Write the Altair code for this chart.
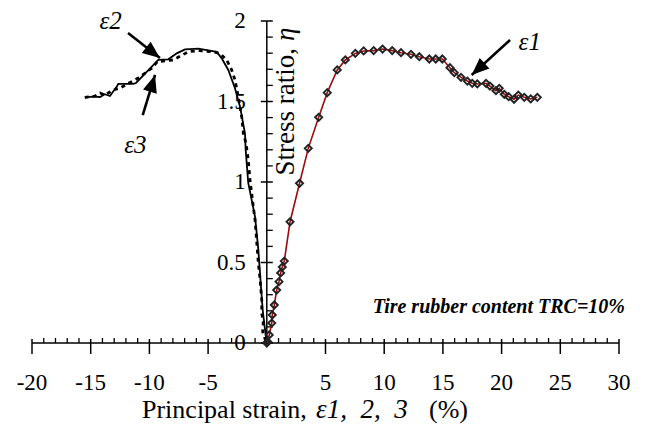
import math
import altair as alt
import pandas as pd

# ---- data ----
e1_x = [0.0, 0.08, 0.21, 0.42, 0.47, 0.64, 0.84, 1.04, 1.18, 1.32, 1.49, 1.98, 2.79, 3.53, 4.42,
        5.15, 6.0, 6.69, 7.54, 8.25, 9.1, 9.86, 10.68, 11.43, 12.28, 12.99, 13.84, 14.39, 14.95,
        15.6, 15.97, 16.54, 17.08, 17.5, 17.93, 18.67, 19.01, 19.52, 19.8, 20.23, 20.6, 21.06,
        21.42, 21.93, 22.48, 23.04]
e1_y = [0.0, 0.008, 0.05, 0.124, 0.174, 0.236, 0.329, 0.381, 0.435, 0.472, 0.509, 0.753, 0.992,
        1.209, 1.402, 1.555, 1.696, 1.758, 1.799, 1.814, 1.816, 1.826, 1.816, 1.803, 1.793, 1.778,
        1.764, 1.764, 1.764, 1.71, 1.679, 1.65, 1.627, 1.613, 1.609, 1.613, 1.596, 1.567, 1.582,
        1.545, 1.53, 1.514, 1.54, 1.526, 1.516, 1.526]

e2_x = [-15.5, -14.9, -14.2, -13.8, -13.36, -12.79, -12.65, -11.37, -11.14, -9.24, -8.39, -7.67,
        -6.97, -5.83, -4.27, -3.84, -3.28, -2.71, -2.28, -1.86, -1.8, -1.58, -1.0, -0.72, -0.52,
        -0.35, -0.15, 0.0]
e2_y = [1.524, 1.53, 1.528, 1.545, 1.534, 1.592, 1.609, 1.609, 1.615, 1.758, 1.762, 1.799, 1.824,
        1.828, 1.809, 1.768, 1.696, 1.582, 1.468, 1.302, 1.2, 0.994, 0.784, 0.578, 0.373, 0.205,
        0.081, 0.0]

e3_x = [-15.5, -14.64, -14.2, -13.78, -13.36, -13.1, -12.5, -10.95, -9.8, -9.33, -7.96, -6.69,
        -5.83, -4.56, -3.99, -3.42, -2.99, -2.71, -2.43, -2.14, -2.0, -1.77, -1.58, -1.43, -1.15,
        -1.0, -0.72, -0.58, -0.43, -0.43, -0.3, -0.35, -0.07, 0.0]
e3_y = [1.525, 1.534, 1.553, 1.54, 1.559, 1.571, 1.584, 1.646, 1.706, 1.747, 1.758, 1.809, 1.816,
        1.809, 1.799, 1.758, 1.696, 1.634, 1.53, 1.406, 1.302, 1.24, 1.137, 1.012, 0.847, 0.764,
        0.495, 0.402, 0.267, 0.184, 0.132, 0.07, 0.008, 0.0]

x_tick_labels = [-20, -15, -10, -5, 5, 10, 15, 20, 25, 30]
y_tick_labels = [0, 0.5, 1, 1.5, 2]

# arrows: label, tail (x, y), tip (x, y) in data units
arrow_label = ["ε2", "ε3", "ε1"]
arrow_tail_x = [-11.82, -10.57, 20.72]
arrow_tail_y = [1.925, 1.416, 1.882]
arrow_tip_x = [-9.10, -9.52, 17.45]
arrow_tip_y = [1.770, 1.665, 1.665]
label_x = [-13.3, -11.2, 22.4]
label_y = [2.0, 1.23, 1.87]

# ---- layout ----
W, H = 587, 322
XMIN, XMAX, YMIN, YMAX = -20, 30, 0, 2
xs = alt.Scale(domain=[XMIN, XMAX], nice=False, zero=False)
ys = alt.Scale(domain=[YMIN, YMAX], nice=False, zero=False)
FONT = "Liberation Serif"
NB = "\u00a0"


def X(f):
    return alt.X(f, type="quantitative", scale=xs, axis=None)


def Y(f):
    return alt.Y(f, type="quantitative", scale=ys, axis=None)


# axis lines
axes_df = pd.DataFrame({"x": [XMIN, 0], "x2": [XMAX, 0], "y": [0, 0], "y2": [0, YMAX]})
axis_lines = alt.Chart(axes_df).mark_rule(color="black", strokeWidth=1.5).encode(
    x=X("x"), x2="x2", y=Y("y"), y2="y2")

xt = list(range(XMIN, XMAX + 1))
xminor = pd.DataFrame({"x": [v for v in xt if v % 5 != 0], "y": 0})
xmajor = pd.DataFrame({"x": [v for v in xt if v % 5 == 0 and v != 0], "y": 0})
yminor = pd.DataFrame({"y": [round(i * 0.1, 1) for i in range(21) if i % 5 != 0], "x": 0})
ymajor = pd.DataFrame({"y": [round(i * 0.1, 1) for i in range(21) if i % 5 == 0], "x": 0})

x_minor_ticks = alt.Chart(xminor).mark_tick(orient="vertical", size=5, thickness=1.3,
                                             yOffset=-2.5, opacity=1, color="black").encode(
    x=X("x"), y=Y("y"))
x_major_ticks = alt.Chart(xmajor).mark_tick(orient="vertical", size=15, thickness=1.5,
                                             yOffset=3.5, opacity=1, color="black").encode(
    x=X("x"), y=Y("y"))
y_minor_ticks = alt.Chart(yminor).mark_tick(orient="horizontal", size=6, thickness=1.3,
                                             xOffset=3, opacity=1, color="black").encode(
    x=X("x"), y=Y("y"))
y_major_ticks = alt.Chart(ymajor).mark_tick(orient="horizontal", size=12, thickness=1.5,
                                             xOffset=0, opacity=1, color="black").encode(
    x=X("x"), y=Y("y"))

xlab_df = pd.DataFrame({"x": x_tick_labels, "y": 0, "t": [str(v) for v in x_tick_labels]})
x_labels = alt.Chart(xlab_df).mark_text(font=FONT, fontSize=23, dy=40, baseline="middle",
                                        color="black").encode(x=X("x"), y=Y("y"), text="t:N")
ylab_df = pd.DataFrame({"y": y_tick_labels, "x": 0, "t": [f"{v:g}" for v in y_tick_labels]})
y_labels = alt.Chart(ylab_df).mark_text(font=FONT, fontSize=23, dx=-21, align="right",
                                        baseline="middle", color="black").encode(
    x=X("x"), y=Y("y"), text="t:N")

# curves
e1 = pd.DataFrame({"x": e1_x, "y": e1_y, "i": range(len(e1_x))})
e2 = pd.DataFrame({"x": e2_x, "y": e2_y, "i": range(len(e2_x))})
e3 = pd.DataFrame({"x": e3_x, "y": e3_y, "i": range(len(e3_x))})

e1_line = alt.Chart(e1).mark_line(color="#9b0d0d", strokeWidth=1.6).encode(
    x=X("x"), y=Y("y"), order="i:Q")
e1_pts = alt.Chart(e1).mark_point(shape="diamond", size=50, filled=False, color="#222222",
                                  strokeWidth=1.9, opacity=1).encode(x=X("x"), y=Y("y"))
e2_line = alt.Chart(e2).mark_line(color="black", strokeWidth=1.8).encode(
    x=X("x"), y=Y("y"), order="i:Q")
e3_line = alt.Chart(e3).mark_line(color="black", strokeWidth=2.8, strokeDash=[4, 4]).encode(
    x=X("x"), y=Y("y"), order="i:Q")

# arrows
px_per_x = W / (XMAX - XMIN)
px_per_y = H / (YMAX - YMIN)
angles = []
for tx, ty, hx, hy in zip(arrow_tail_x, arrow_tail_y, arrow_tip_x, arrow_tip_y):
    dx = (hx - tx) * px_per_x
    dy = -(hy - ty) * px_per_y
    angles.append(math.degrees(math.atan2(dx, -dy)) % 360)
arr = pd.DataFrame({"tx": arrow_tail_x, "ty": arrow_tail_y, "hx": arrow_tip_x,
                    "hy": arrow_tip_y, "a": angles, "lab": arrow_label,
                    "lx": label_x, "ly": label_y})
arrow_shaft = alt.Chart(arr).mark_rule(color="black", strokeWidth=2.6).encode(
    x=X("tx"), y=Y("ty"), x2="hx", y2="hy")
arrow_head = alt.Chart(arr).mark_point(shape="M0,0L-0.7,1.7L0.7,1.7Z", size=420, filled=True,
                                       color="black", opacity=1).encode(
    x=X("hx"), y=Y("hy"), angle=alt.Angle("a:Q", scale=None))
arrow_text = alt.Chart(arr).mark_text(font=FONT, fontSize=25, fontStyle="italic",
                                      color="black", baseline="middle").encode(
    x=X("lx"), y=Y("ly"), text="lab:N")


# titles / annotation
def txt(s, x, y, **kw):
    return alt.Chart(pd.DataFrame({"t": [s]})).mark_text(font=FONT, color="black", **kw).encode(
        text="t:N", x=alt.value(x), y=alt.value(y))


title_a = txt("Principal strain,", 110, 389, fontSize=26, align="left", baseline="middle")
title_b = txt(f"ε1,{NB}{NB}2,{NB}{NB}3", 284, 389, fontSize=27, align="left",
              baseline="middle", fontStyle="italic")
title_c = txt("(%)", 397, 389, fontSize=26, align="left", baseline="middle")
ytitle_a = txt("Stress ratio,", 254, 27, fontSize=27, align="right", baseline="middle",
               angle=270)
ytitle_b = txt("η", 254, 20, fontSize=27, align="left", baseline="middle",
               angle=270, fontStyle="italic")
note = txt("Tire rubber content TRC=10%", 593, 286, fontSize=20, align="right",
           baseline="middle", fontStyle="italic", fontWeight="bold")

chart = alt.layer(
    axis_lines, x_minor_ticks, x_major_ticks, y_minor_ticks, y_major_ticks,
    x_labels, y_labels,
    e3_line, e2_line, e1_line, e1_pts,
    arrow_shaft, arrow_head, arrow_text,
    title_a, title_b, title_c, ytitle_a, ytitle_b, note,
).properties(
    width=W, height=H,
    autosize=alt.AutoSizeParams(type="none"),
    padding={"left": 24, "top": 13, "right": 19, "bottom": 83},
).configure_view(stroke=None)

chart.save("out.html", embed_options={"renderer": "svg", "actions": False})
